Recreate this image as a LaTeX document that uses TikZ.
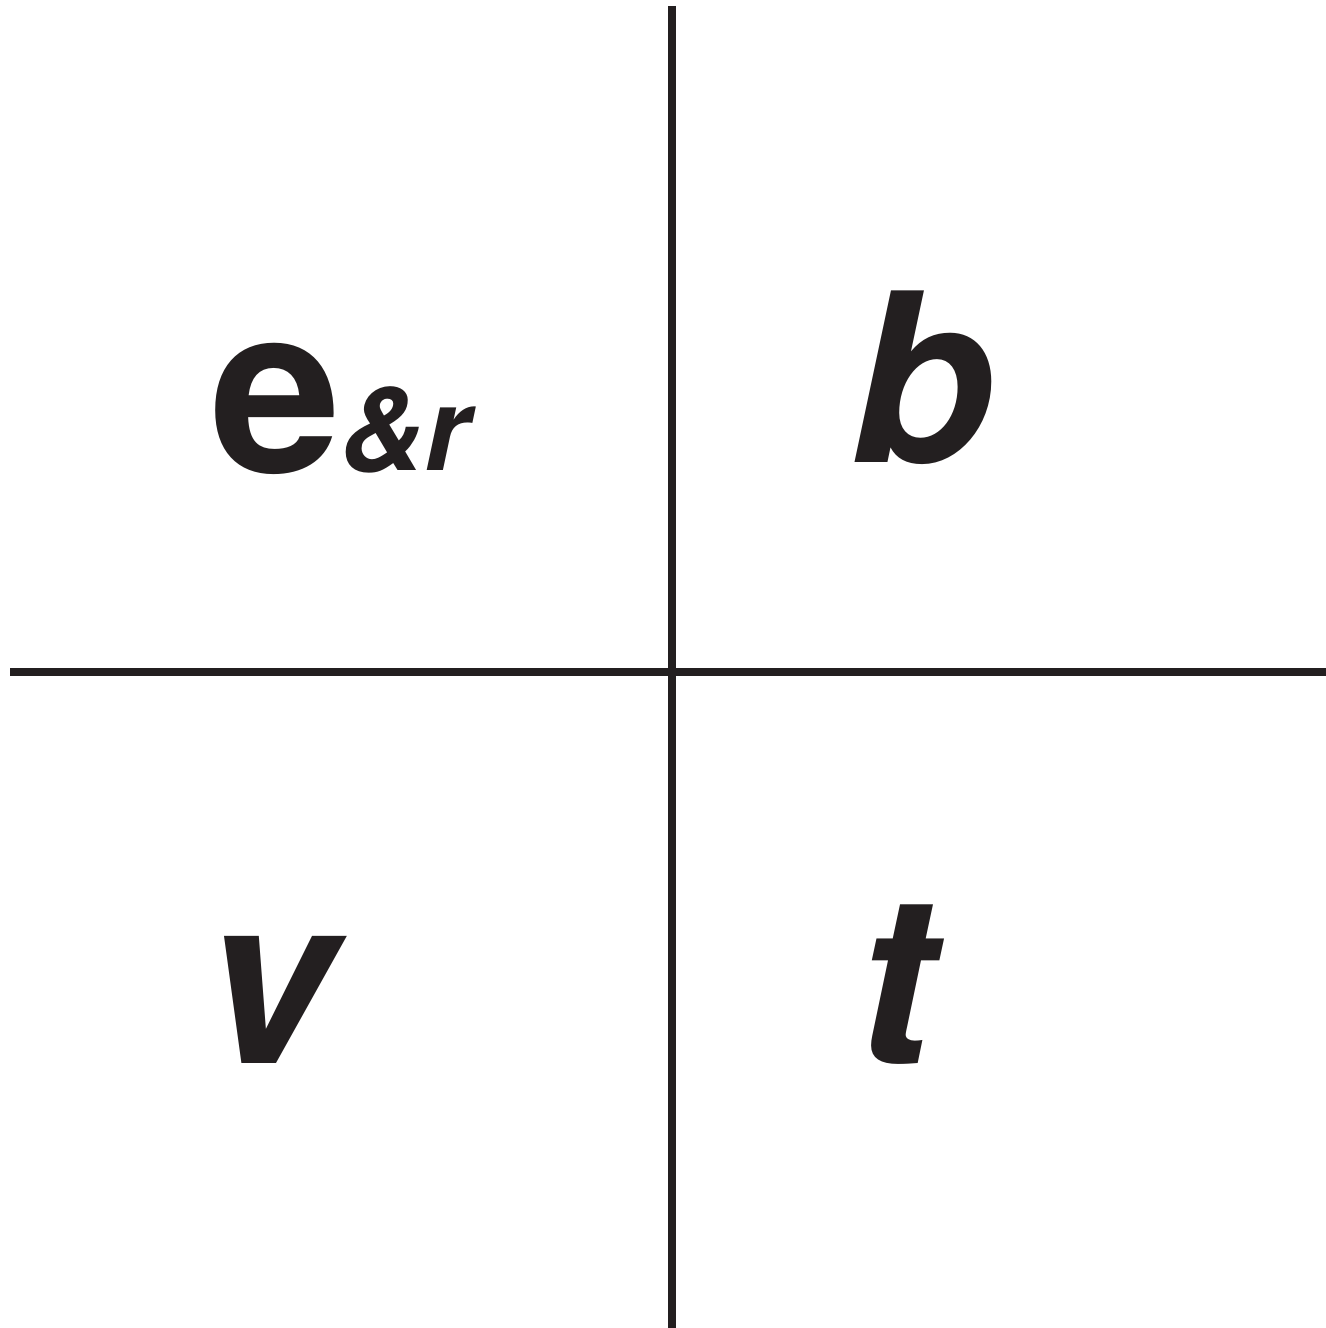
\documentclass[tikz,border=0pt]{standalone}
\usepackage{fontspec}
\setmainfont{TeX Gyre Heros}
\usetikzlibrary{positioning}
\definecolor{InkBlack}{RGB}{35,31,32}
\tikzset{
  axis/.style={draw=InkBlack,line width=2.3pt},
  lbl/.style={inner sep=0pt,anchor=base,text=InkBlack,font=\fontsize{67}{67}\selectfont\bfseries\itshape},
  lblsmall/.style={inner sep=0pt,anchor=base,text=InkBlack,font=\fontsize{33}{33}\selectfont\bfseries\itshape},
}
\begin{document}
\begin{tikzpicture}
    \useasboundingbox (0,0) rectangle (13.26,-13.28);
    % Axes
    \coordinate (top) at (6.72,-0.06);
    \coordinate (bottom) at (6.72,-13.28);
    \coordinate (left) at (0.10,-6.72);
    \coordinate (right) at (13.26,-6.72);
    \draw[axis] (top) -- (bottom);
    \draw[axis] (left) -- (right);

    % Quadrant labels
    \node[lbl, font=\fontsize{67}{67}\selectfont\bfseries] (qe) at (2.76,-4.72) {e};
    \node[lblsmall] (qer) at (4.05,-4.70) {\&r};
    \node[lbl] (qb) at (9.22,-4.62) {b};
    \node[lbl] (qv) at (2.69,-10.63) {v};
    \node[lbl] (qt) at (8.96,-10.63) {t};
\end{tikzpicture}
\end{document}
